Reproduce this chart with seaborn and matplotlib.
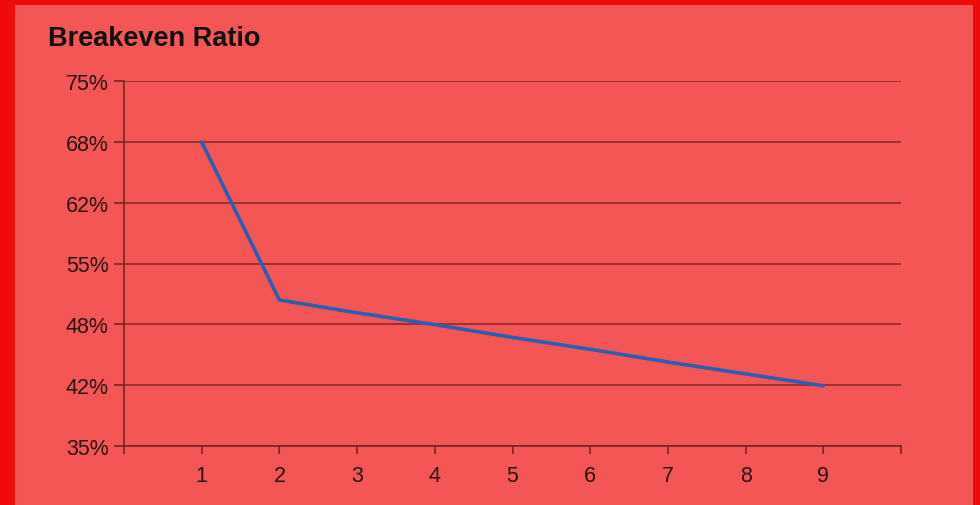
import matplotlib
matplotlib.use("Agg")
import matplotlib.pyplot as plt
import matplotlib.patches as mpatches
import seaborn as sns
import pandas as pd

# Breakeven ratio by step
steps = [1, 2, 3, 4, 5, 6, 7, 8, 9]
ratio_pct = [68.3, 51.0, 49.6, 48.3, 46.9, 45.6, 44.2, 42.9, 41.6]

y_ticks = [35, 41.667, 48.333, 55, 61.667, 68.333, 75]
y_tick_labels = ["35%", "42%", "48%", "55%", "62%", "68%", "75%"]
x_ticks = [0, 1, 2, 3, 4, 5, 6, 7, 8, 9, 10]
x_tick_labels = ["", "1", "2", "3", "4", "5", "6", "7", "8", "9", ""]

sns.set_theme(style="white")
plt.rcParams["font.family"] = ["Liberation Sans", "DejaVu Sans"]

W, H = 980, 506
fig = plt.figure(figsize=(W / 100, H / 100), dpi=100)
fig.patch.set_facecolor("#EE0B0B")

panel = "#F45555"
# inner panel inside the red frame
fig.patches.append(mpatches.Rectangle((15 / W, 0), (973 - 15) / W, 1 - 6 / H,
                                      transform=fig.transFigure,
                                      facecolor=panel, edgecolor="none", zorder=-10))

ax = fig.add_axes([124 / W, 1 - 447 / H, (901 - 124) / W, (447 - 82) / H])
ax.set_zorder(5)
ax.set_facecolor(panel)

df = pd.DataFrame({"step": steps, "ratio": ratio_pct})
sns.lineplot(data=df, x="step", y="ratio", ax=ax, color="#2B5FB2",
             linewidth=2.6, zorder=3)

ax.set_xlim(0, 10)
ax.set_ylim(35, 75)
ax.set_yticks(y_ticks)
ax.set_yticklabels(y_tick_labels)
ax.set_xticks(x_ticks)
ax.set_xticklabels(x_tick_labels)
ax.set_xlabel("")
ax.set_ylabel("")

axis_col = "#7A2424"
ax.grid(axis="y", color="#8E2A2A", linewidth=1.2, zorder=1)
ax.grid(axis="x", visible=False)
for side in ["top", "right"]:
    ax.spines[side].set_visible(False)
for side in ["left", "bottom"]:
    ax.spines[side].set_color(axis_col)
    ax.spines[side].set_linewidth(1.2)

ax.tick_params(axis="y", direction="out", length=7, width=1.2, color=axis_col,
               labelsize=15.5, labelcolor="#2A1414", pad=4, left=True)
ax.tick_params(axis="x", direction="out", length=6, width=1.2, color=axis_col,
               labelsize=15.5, labelcolor="#2A1414", pad=8, bottom=True)

fig.text(48 / W, 1 - 46 / H, "Breakeven Ratio", fontsize=19.5, fontweight="bold",
         color="#111111", ha="left", va="baseline", zorder=10)

fig.savefig("out.png", dpi=100, facecolor=fig.get_facecolor())
